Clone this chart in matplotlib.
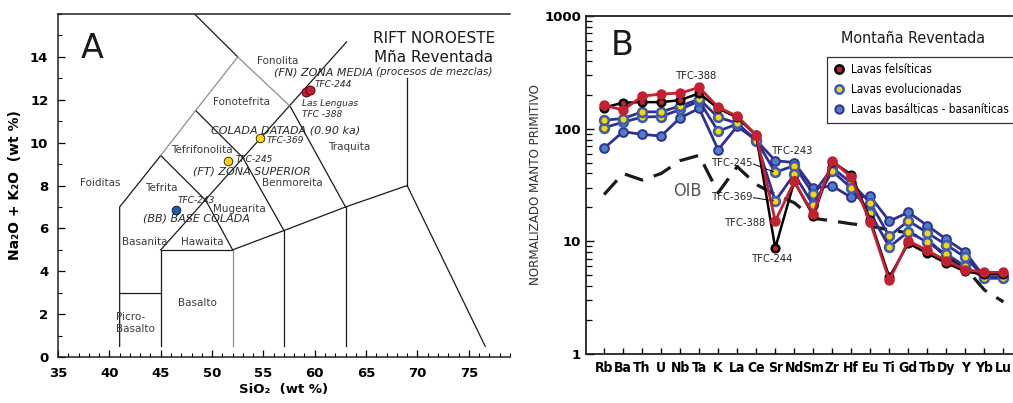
import numpy as np
import matplotlib.pyplot as plt
from matplotlib import font_manager
from matplotlib.font_manager import FontProperties
from matplotlib.ticker import MultipleLocator, NullFormatter, LogLocator
from matplotlib.lines import Line2D

# look for a condensed sans face; otherwise use Liberation Sans (narrower than DejaVu)
def pick_narrow(bold=False):
    good = []
    for f in font_manager.fontManager.ttflist:
        narrow_face = ('Narrow' in f.name or 'Condensed' in f.name or
                       f.stretch in ('condensed', 'semi-condensed'))
        sans = any(k in f.name for k in ('Sans', 'Roboto', 'Lato', 'Inter'))
        if narrow_face and sans and 'CJK' not in f.name and f.style == 'normal':
            w = f.weight if isinstance(f.weight, int) else (700 if f.weight == 'bold' else 400)
            if (w >= 600) == bold:
                good.append(f)
    if good:
        return FontProperties(fname=good[0].fname), True
    return FontProperties(family='Liberation Sans', weight='bold' if bold else 'normal'), False

fp_n, cond = pick_narrow(False)
fp_b, cond_b = pick_narrow(True)

# ---------------- Panel A: TAS ----------------
sio2_red = [59.1, 59.5]
alk_red = [12.35, 12.45]
sio2_yel = [54.7, 51.6]
alk_yel = [10.2, 9.15]
sio2_blue = [46.5]
alk_blue = [6.85]

tas_black = [
    [(41, 0.5), (41, 7), (45, 9.4)],
    [(41, 3), (45, 3)],
    [(45, 0.5), (45, 5), (52, 5)],
    [(57, 0.5), (57, 5.9)],
    [(63, 0.5), (63, 7)],
    [(52, 5), (57, 5.9), (63, 7), (69, 8)],
    [(69, 8), (69, 13)],
    [(69, 8), (76.6, 0.5)],
    [(45, 9.4), (49.4, 7.3), (52, 5)],
    [(48.4, 11.5), (53, 9.3), (57, 5.9)],
    [(57.6, 11.7), (63, 7)],
    [(48.3, 16), (52.5, 14)],
    [(45, 5), (63.1, 14.7)],
]
tas_grey = [
    [(52, 0.5), (52, 5)],
    [(45, 9.4), (48.4, 11.5), (52.5, 14), (57.6, 11.7)],
]

field_names = ['Fonolita', 'Fonotefrita', 'Tefrifonolita', 'Traquita', 'Benmoreita',
               'Foiditas', 'Tefrita', 'Mugearita', 'Basanita', 'Hawaita', 'Basalto',
               'Picro-\nBasalto']
field_x = [56.4, 52.9, 49.0, 63.4, 57.8, 39.1, 45.1, 52.7, 43.45, 49.0, 48.6, 42.5]
field_y = [13.83, 11.92, 9.67, 9.81, 8.13, 8.13, 7.9, 6.92, 5.37, 5.37, 2.52, 1.6]

# ---------------- Panel B: spider ----------------
elements = ['Rb', 'Ba', 'Th', 'U', 'Nb', 'Ta', 'K', 'La', 'Ce', 'Sr', 'Nd', 'Sm', 'Zr',
            'Hf', 'Eu', 'Ti', 'Gd', 'Tb', 'Dy', 'Y', 'Yb', 'Lu']
tfc388 = [162, 146, 194, 203, 207, 232, 155, 129, 88, 15.1, 34, 17.4, 52, 37, 14.7, 4.5,
          10.1, 8.3, 6.7, 5.6, 5.3, 5.3]
tfc244 = [154, 170, 172, 172, 179, 206, 151, 126, 87, 8.7, 34, 16.8, 51, 39, 15.4, 4.8,
          9.6, 7.8, 6.4, 5.4, 5.1, 5.1]
tfc369 = [119, 123, 141, 141, 159, 183, 126, 112, 78, 22.8, 39.4, 21, 42, 29.7, 17.8, 8.9,
          12.2, 9.8, 7.7, 6.0, 4.7, 4.7]
tfc245 = [102, 114, 127, 128, 148, 176, 95, 110, 79, 41, 47, 26.3, 45, 33, 21.9, 11.1,
          15.2, 11.9, 9.3, 7.2, 4.8, 4.8]
tfc243 = [67, 94, 89, 86, 125, 151, 65, 105, 79, 52, 50, 29.5, 31, 24.5, 25, 15.1,
          18.1, 13.8, 10.4, 8.0, 4.8, 4.8]
oib = [26, 40, 35, 40, 52, 58, 27, 46, 32, 26, 22, 16, 15.2, 14.3, 13.7, 12.6,
       11.9, 10.3, 7.3, 5.8, 3.7, 2.9]

RED = '#c4202f'
NAVY = '#2e3192'
YEL = '#ffd400'
BLUEF = '#4f7fc6'

fig = plt.figure(figsize=(10.13, 4.03), dpi=100)
axA = fig.add_axes([0.0573, 0.1141, 0.446, 0.851])
axB = fig.add_axes([0.5785, 0.1216, 0.4205, 0.8387])

# --- A ---
for seg in tas_black:
    xs, ys = zip(*seg)
    axA.plot(xs, ys, color='#1a1a1a', lw=0.9)
for seg in tas_grey:
    xs, ys = zip(*seg)
    axA.plot(xs, ys, color='#8a8d9e', lw=0.9)

axA.scatter(sio2_red, alk_red, s=42, c=RED, edgecolors='#5a0a10', linewidths=0.7, zorder=5)
axA.scatter(sio2_yel, alk_yel, s=38, c=YEL, edgecolors='#333', linewidths=0.7, zorder=5)
axA.scatter(sio2_blue, alk_blue, s=38, c='#1d5ea8', edgecolors='#0a1f40', linewidths=0.7, zorder=5)

for t, x, y in zip(field_names, field_x, field_y):
    axA.text(x, y, t, fontsize=7.5, color='#3a3a3a', ha='center', va='center',
             linespacing=1.3, multialignment='left')

it = dict(style='italic', color='#2a2a2a')
axA.text(60.9, 13.27, '(FN) ZONA MEDIA', fontsize=8, ha='center', va='center', **it)
axA.text(60.0, 12.71, 'TFC-244', fontsize=6.5, ha='left', va='center', **it)
axA.text(58.8, 11.82, 'Las Lenguas', fontsize=6.5, ha='left', va='center', **it)
axA.text(58.8, 11.31, 'TFC -388', fontsize=6.5, ha='left', va='center', **it)
axA.text(57.2, 10.56, 'COLADA DATADA (0.90 ka)', fontsize=8, ha='center', va='center', **it)
axA.text(55.3, 10.09, 'TFC-369', fontsize=6.5, ha='left', va='center', **it)
axA.text(52.3, 9.21, 'TFC-245', fontsize=6.5, ha='left', va='center', **it)
axA.text(53.9, 8.64, '(FT) ZONA SUPERIOR', fontsize=8, ha='center', va='center', **it)
axA.text(46.65, 7.29, 'TFC-243', fontsize=6.5, ha='left', va='center', **it)
axA.text(48.5, 6.45, '(BB) BASE COLADA', fontsize=8, ha='center', va='center', **it)

axA.text(38.3, 14.4, 'A', fontsize=24, ha='center', va='center', color='#1a1a1a')
axA.text(71.6, 14.86, 'RIFT NOROESTE', fontsize=11, ha='center', va='center', color='#1a1a1a')
axA.text(71.6, 13.97, 'Mña Reventada', fontsize=11, ha='center', va='center', color='#1a1a1a')
axA.text(71.6, 13.32, '(procesos de mezclas)', fontsize=7.5, ha='center', va='center', **it)

axA.set_xlim(35, 79)
axA.set_ylim(0, 16)
axA.spines['right'].set_visible(False)
for s in ['left', 'bottom', 'top']:
    axA.spines[s].set_linewidth(1.1)
    axA.spines[s].set_color('#222')
axA.set_xticks(range(35, 80, 5))
axA.set_yticks(range(0, 15, 2))
axA.xaxis.set_minor_locator(MultipleLocator(1))
axA.yaxis.set_minor_locator(MultipleLocator(1))
axA.tick_params(which='major', direction='in', length=5, width=0.9, labelsize=9.5)
axA.tick_params(axis='x', which='major', pad=7)
axA.tick_params(axis='y', which='major', pad=7)
axA.tick_params(which='minor', direction='in', length=3, width=0.8)
for lbl in axA.get_xticklabels() + axA.get_yticklabels():
    lbl.set_fontweight('bold')
axA.set_xlabel('SiO₂  (wt %)', fontsize=9.5, fontweight='bold', labelpad=2)
axA.set_ylabel('Na₂O + K₂O  (wt %)', fontsize=10, fontweight='bold', labelpad=6)

# --- B ---
x = np.arange(len(elements))
axB.plot(x, oib, color='#1a1a1a', lw=2.3, dashes=(6, 3.5), zorder=1)
axB.plot(x, tfc243, '-o', color=NAVY, lw=2, ms=6.3, mfc=BLUEF, mec=NAVY, mew=1.4, zorder=2)
axB.plot(x, tfc245, '-o', color=NAVY, lw=2, ms=6.3, mfc=YEL, mec='#3a5fb0', mew=1.9, zorder=2)
axB.plot(x, tfc369, '-o', color=NAVY, lw=2, ms=6.3, mfc=YEL, mec='#3a5fb0', mew=1.9, zorder=2)
axB.plot(x, tfc244, '-o', color='black', lw=1.8, ms=5.5, mfc=RED, mec='black', mew=1.8, zorder=3)
axB.plot(x, tfc388, '-o', color=RED, lw=2, ms=6.5, mfc=RED, mec=RED, zorder=4)

axB.set_yscale('log')
axB.set_ylim(1, 1000)
axB.set_xlim(-0.95, 21.45)
axB.spines['right'].set_visible(False)
for s in ['left', 'bottom', 'top']:
    axB.spines[s].set_linewidth(1.3)
    axB.spines[s].set_color('#222')
axB.set_xticks(x)
fp_tick = fp_b.copy()
fp_tick.set_size(10 if cond_b else 8.8)
axB.set_xticklabels(elements, fontproperties=fp_tick)
axB.set_yticks([1, 10, 100, 1000])
axB.set_yticklabels(['1', '10', '100', '1000'], fontweight='bold', fontsize=9.5)
axB.yaxis.set_minor_locator(LogLocator(base=10, subs=np.arange(2, 10)))
axB.yaxis.set_minor_formatter(NullFormatter())
axB.tick_params(which='major', direction='in', length=6, width=1)
axB.tick_params(which='minor', direction='in', length=4, width=0.9)
axB.tick_params(axis='x', length=4, pad=5)
fp_lab = fp_n.copy()
fp_lab.set_size(9.5 if cond else 9)
axB.set_ylabel('NORMALIZADO MANTO PRIMITIVO', fontproperties=fp_lab, color='#333', labelpad=2)

def nfp(size):
    p = fp_n.copy()
    p.set_size(size if cond else size * 0.88)
    return p

axB.text(0.95, 552, 'B', fontsize=24, ha='center', va='center', color='#1a1a1a')
axB.text(16.26, 637, 'Montaña Reventada', fontproperties=nfp(11.5), ha='center', va='center',
         color='#1a1a1a')
axB.text(4.37, 27.9, 'OIB', fontproperties=nfp(13), ha='center', va='center', color='#555')

an = dict(color='#222', va='center')
axB.text(4.89, 293, 'TFC-388', ha='center', fontproperties=nfp(8), **an)
axB.text(9.89, 63.3, 'TFC-243', ha='center', fontproperties=nfp(8), **an)
axB.text(7.84, 49.5, 'TFC-245', ha='right', fontproperties=nfp(8), **an)
axB.plot([7.86, 8.9], [48.5, 41.5], color='black', lw=0.7)
axB.text(7.84, 24.7, 'TFC-369', ha='right', fontproperties=nfp(8), **an)
axB.plot([7.86, 8.9], [24.4, 22.9], color='black', lw=0.7)
axB.text(8.5, 14.5, 'TFC-388', ha='right', fontproperties=nfp(8), **an)
axB.text(8.89, 7.0, 'TFC-244', ha='center', fontproperties=nfp(8), **an)

handles = [
    Line2D([], [], ls='none', marker='o', ms=6, mfc=RED, mec='black', mew=1.8),
    Line2D([], [], ls='none', marker='o', ms=6, mfc=YEL, mec='#3a5fb0', mew=1.8),
    Line2D([], [], ls='none', marker='o', ms=6, mfc=BLUEF, mec=NAVY, mew=1.4),
]
leg = axB.legend(handles, ['Lavas felsíticas', 'Lavas evolucionadas',
                           'Lavas basálticas - basaníticas'],
                 loc='upper left', bbox_to_anchor=(0.552, 0.897), frameon=True,
                 fancybox=False, edgecolor='#333', framealpha=1,
                 prop=nfp(8.5), handlelength=1.0,
                 handletextpad=0.5, labelspacing=0.6, borderpad=0.55)
leg.get_frame().set_linewidth(0.9)

fig.savefig('out.png', dpi=100)
